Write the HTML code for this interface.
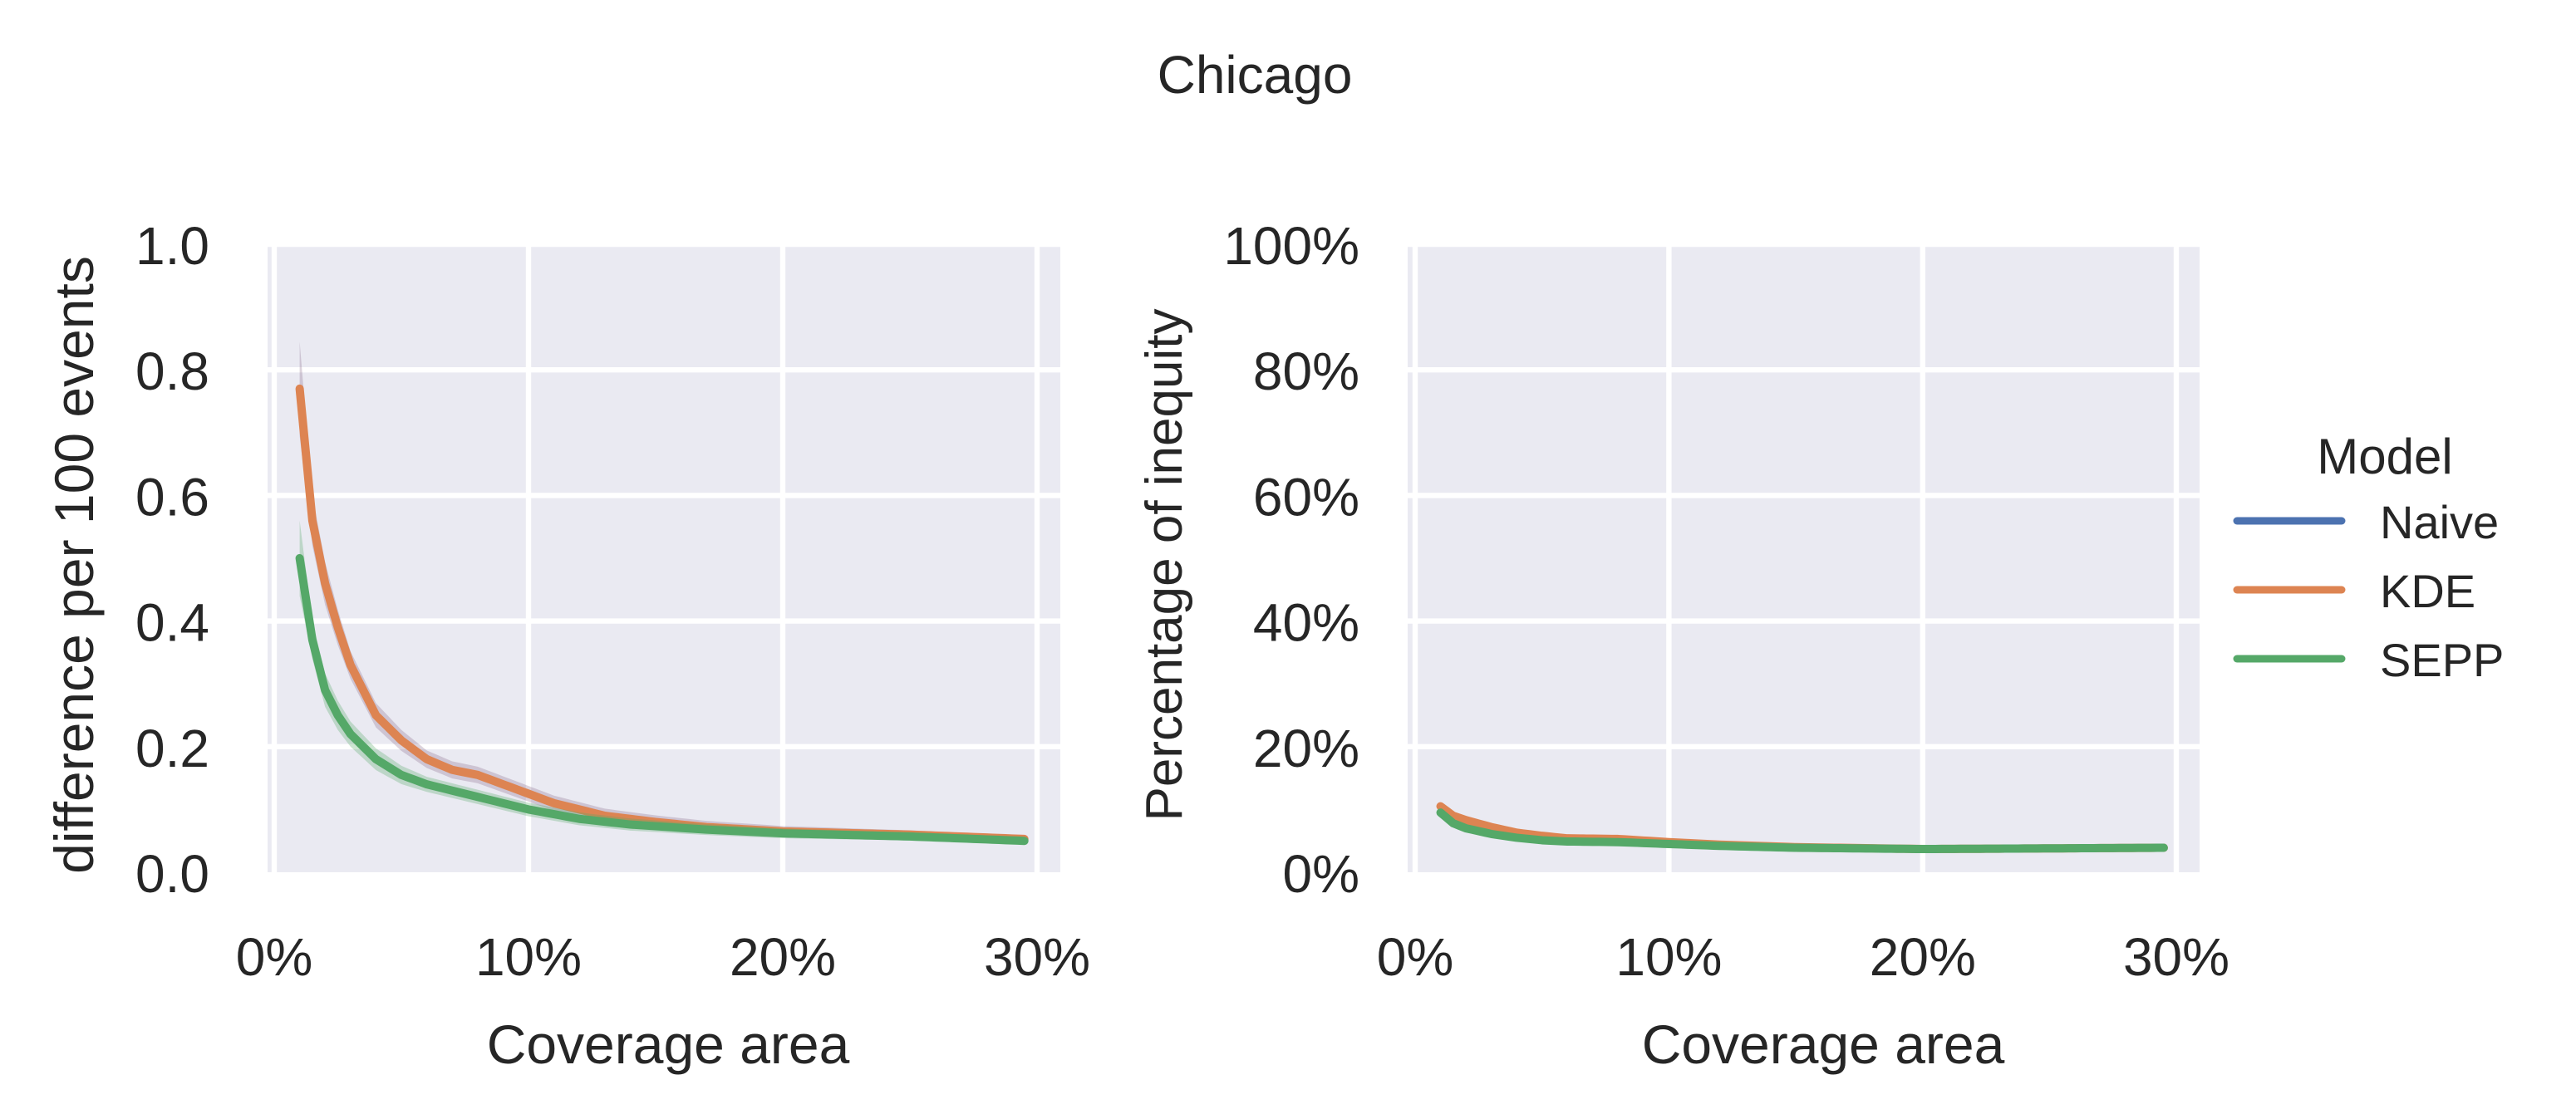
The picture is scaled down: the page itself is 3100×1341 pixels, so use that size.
<!DOCTYPE html>
<html><head><meta charset="utf-8"><style>
html,body{margin:0;padding:0;background:#fff;}
svg{display:block;}
text{font-family:"Liberation Sans",Arial,sans-serif;fill:#262626;}
</style></head><body>
<svg id="s" width="3100" height="1341" viewBox="0 0 1550 670.5" xmlns="http://www.w3.org/2000/svg">
<text x="755" y="56" font-size="32" text-anchor="middle">Chicago</text>
<!-- plot 1 -->
<rect x="161" y="147" width="477" height="378" fill="#eaeaf2"/>
<g stroke="#fff" stroke-width="3.2">
<line x1="161" x2="638" y1="147" y2="147"/><line x1="161" x2="638" y1="222.6" y2="222.6"/><line x1="161" x2="638" y1="298.2" y2="298.2"/><line x1="161" x2="638" y1="373.8" y2="373.8"/><line x1="161" x2="638" y1="449.4" y2="449.4"/>
<line x1="165" x2="165" y1="147" y2="525"/><line x1="318" x2="318" y1="147" y2="525"/><line x1="471" x2="471" y1="147" y2="525"/><line x1="624" x2="624" y1="147" y2="525"/>
</g>
<g id="p1"></g>
<g font-size="32" text-anchor="end">
<text x="126" y="159">1.0</text><text x="126" y="234.6">0.8</text><text x="126" y="310.2">0.6</text><text x="126" y="385.8">0.4</text><text x="126" y="461.4">0.2</text><text x="126" y="537">0.0</text>
</g>
<g font-size="32" text-anchor="middle">
<text x="165" y="587">0%</text><text x="318" y="587">10%</text><text x="471" y="587">20%</text><text x="624" y="587">30%</text>
<text x="402" y="640" font-size="33">Coverage area</text>
</g>
<text transform="translate(56,340) rotate(-90)" font-size="33" text-anchor="middle">difference per 100 events</text>
<!-- plot 2 -->
<rect x="847" y="147" width="476.5" height="378" fill="#eaeaf2"/>
<g stroke="#fff" stroke-width="3.2">
<line x1="847" x2="1323.5" y1="147" y2="147"/><line x1="847" x2="1323.5" y1="222.6" y2="222.6"/><line x1="847" x2="1323.5" y1="298.2" y2="298.2"/><line x1="847" x2="1323.5" y1="373.8" y2="373.8"/><line x1="847" x2="1323.5" y1="449.4" y2="449.4"/>
<line x1="851.5" x2="851.5" y1="147" y2="525"/><line x1="1004.2" x2="1004.2" y1="147" y2="525"/><line x1="1156.9" x2="1156.9" y1="147" y2="525"/><line x1="1309.5" x2="1309.5" y1="147" y2="525"/>
</g>
<g id="p2"></g>
<g font-size="32" text-anchor="end">
<text x="818" y="159">100%</text><text x="818" y="234.6">80%</text><text x="818" y="310.2">60%</text><text x="818" y="385.8">40%</text><text x="818" y="461.4">20%</text><text x="818" y="537">0%</text>
</g>
<g font-size="32" text-anchor="middle">
<text x="851.5" y="587">0%</text><text x="1004.2" y="587">10%</text><text x="1156.9" y="587">20%</text><text x="1309.5" y="587">30%</text>
<text x="1097" y="640" font-size="33">Coverage area</text>
</g>
<text transform="translate(711,340) rotate(-90)" font-size="31" text-anchor="middle">Percentage of inequity</text>
<!-- legend -->
<text x="1435" y="285" font-size="30" text-anchor="middle">Model</text>
<g stroke-width="4.5" stroke-linecap="round">
<line x1="1346" x2="1409" y1="313.5" y2="313.5" stroke="#4c72b0"/>
<line x1="1346" x2="1409" y1="355" y2="355" stroke="#dd8452"/>
<line x1="1346" x2="1409" y1="396.5" y2="396.5" stroke="#55a868"/>
</g>
<g font-size="28"><text x="1432" y="324">Naive</text><text x="1432" y="365.5">KDE</text><text x="1432" y="407">SEPP</text></g>
</svg>
<script>
function interp(pts,p){for(var i=0;i<pts.length-1;i++){if(p<=pts[i+1][0]){var a=pts[i],b=pts[i+1],t=(p-a[0])/(b[0]-a[0]);return a[1]+t*(b[1]-a[1]);}}return pts[pts.length-1][1];}
function build(g,X,Y,pts,band,color,bandcol){
 var up=[],dn=[],ln=[];
 for(var p=1;p<=29.5001;p+=0.25){var v=interp(pts,p),w=interp(band,p);ln.push(X(p)+','+Y(v));up.push(X(p)+','+Y(v+w));dn.unshift(X(p)+','+Y(Math.max(v-w,0)));}
 var ns='http://www.w3.org/2000/svg';
 var pg=document.createElementNS(ns,'polygon');pg.setAttribute('points',up.concat(dn).join(' '));pg.setAttribute('fill',bandcol);pg.setAttribute('fill-opacity','0.3');g.appendChild(pg);
 var pl=document.createElementNS(ns,'polyline');pl.setAttribute('points',ln.join(' '));pl.setAttribute('fill','none');pl.setAttribute('stroke',color);pl.setAttribute('stroke-width','5');pl.setAttribute('stroke-linecap','round');pl.setAttribute('stroke-linejoin','round');g.appendChild(pl);
}
var X1=function(p){return 165+15.3*p},Y1=function(v){return 525-378*v};
var kde=[[1,0.77],[1.5,0.56],[2,0.46],[2.5,0.39],[3,0.33],[3.5,0.29],[4,0.25],[5,0.21],[6,0.18],[7,0.163],[8,0.155],[9,0.14],[10,0.125],[11,0.11],[12,0.1],[13,0.09],[15,0.08],[17,0.072],[20,0.065],[25,0.06],[29.5,0.053]];
var sepp=[[1,0.5],[1.5,0.37],[2,0.29],[2.5,0.25],[3,0.22],[4,0.18],[5,0.155],[6,0.14],[7,0.13],[8,0.12],[10,0.1],[12,0.085],[14,0.076],[17,0.068],[20,0.062],[25,0.057],[29.5,0.05]];
var kb=[[1,0.075],[1.5,0.04],[3,0.022],[6,0.014],[29.5,0.005]];
var sb=[[1,0.06],[1.5,0.03],[3,0.02],[6,0.012],[29.5,0.005]];
var g1=document.getElementById('p1');
build(g1,X1,Y1,kde,kb,'#dd8452','#8c6d8c');
build(g1,X1,Y1,sepp,sb,'#55a868','#55a868');
var X2=function(p){return 851.5+15.27*p},Y2=function(v){return 525-3.78*v};
var kde2=[[1,10.5],[1.5,9],[2,8.3],[3,7.2],[4,6.3],[5,5.8],[6,5.4],[8,5.3],[10,4.8],[12,4.4],[15,4],[20,3.7],[25,3.8],[29.5,3.9]];
var sepp2=[[1,9.5],[1.5,7.8],[2,7],[3,6.1],[4,5.5],[5,5.1],[6,4.9],[8,4.8],[10,4.5],[12,4.2],[15,3.9],[20,3.7],[25,3.8],[29.5,3.9]];
var b2=[[1,0.6],[29.5,0.3]];
var g2=document.getElementById('p2');
build(g2,X2,Y2,kde2,b2,'#dd8452','#8c6d8c');
build(g2,X2,Y2,sepp2,b2,'#55a868','#55a868');
</script>
</body></html>
